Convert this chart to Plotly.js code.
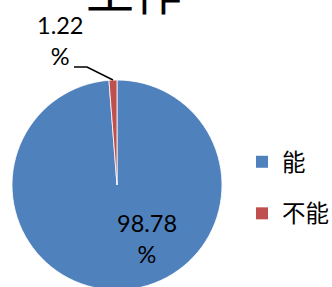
<!DOCTYPE html>
<html>
<head>
<meta charset="utf-8">
<script src="https://cdn.plot.ly/plotly-3.0.1.min.js"></script>
<style>
  html, body { margin: 0; padding: 0; overflow: hidden; background: #fff; }
  #wrap { position: relative; width: 332px; height: 287px; overflow: hidden; }
  #chart { position: absolute; left: 0; top: -36px; width: 332px; height: 340px; }
</style>
</head>
<body>
<div id="wrap"><div id="chart"></div></div>
<script>
// ---- data ----
const chartTitle = "工作";
const categories = ["能", "不能"];
const values = [98.78, 1.22];
const colors = ["#4F81BD", "#C0504D"];

// ---- layout helpers (page pixels -> paper coords) ----
const W = 332, H = 340, OFF = 36;
const px = x => x / W;
const py = y => 1 - (y + OFF) / H;

const numFont = { family: "Lato, Liberation Sans, sans-serif", size: 23.5, color: "#000" };
const cjk = "Noto Sans CJK SC, sans-serif";

const pct = values.map(v => v.toFixed(2) + "<br>%");

const traces = [{
  type: "pie",
  labels: categories,
  values: values,
  sort: false,
  direction: "clockwise",
  rotation: 0,
  textinfo: "none",
  hoverinfo: "none",
  showlegend: false,
  marker: { colors: colors, line: { color: "#ffffff", width: 0.8 } },
  domain: { x: [px(12), px(222)], y: [py(290), py(80)] }
}];
// legend entries (one per category)
categories.forEach((c, i) => {
  traces.push({
    type: "scatter", mode: "markers", x: [null], y: [null],
    name: c, legendgroup: "g" + i, showlegend: true,
    marker: { symbol: "square", size: 12, color: colors[i] },
    hoverinfo: "none"
  });
});

const layout = {
  width: W, height: H,
  margin: { l: 0, r: 0, t: 0, b: 0, autoexpand: false },
  paper_bgcolor: "#fff", plot_bgcolor: "rgba(0,0,0,0)",
  xaxis: { visible: false }, yaxis: { visible: false },
  title: {
    text: chartTitle,
    font: { family: cjk, size: 48, color: "#000" },
    x: px(134), xanchor: "center", xref: "container",
    y: 1, yanchor: "top", yref: "container", pad: { t: 12 }
  },
  showlegend: true,
  legend: {
    x: px(242), xanchor: "left",
    y: py(140), yanchor: "top",
    font: { family: cjk, size: 23.5, color: "#000" },
    tracegroupgap: 18, bgcolor: "rgba(0,0,0,0)"
  },
  annotations: [
    { text: pct[0], x: px(147), y: py(238), xref: "paper", yref: "paper",
      showarrow: false, font: numFont, xanchor: "center", yanchor: "middle", align: "center" },
    { text: pct[1], x: px(60), y: py(41), xref: "paper", yref: "paper",
      showarrow: false, font: numFont, xanchor: "center", yanchor: "middle", align: "center" }
  ],
  shapes: [
    { type: "path", xref: "paper", yref: "paper",
      path: `M${px(74)},${py(67)} L${px(87)},${py(67)} L${px(113)},${py(80)}`,
      line: { color: "#000", width: 1.5 } }
  ]
};

Plotly.newPlot("chart", traces, layout, { staticPlot: true, displayModeBar: false });
</script>
</body>
</html>
